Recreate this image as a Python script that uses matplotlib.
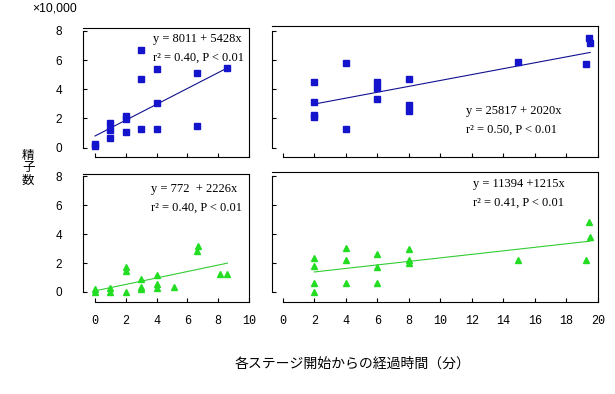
import numpy as np
import matplotlib
matplotlib.use('Agg')
import matplotlib.pyplot as plt

# ── Data (sperm count, x10,000) ──────────────────────────────────────────────
tl_x = [0, 0, 1, 1, 1, 2, 2, 2, 3, 3, 3, 4, 4, 4, 6.65, 6.6, 8.6]
tl_y = [0.12, 0.22, 1.67, 1.19, 0.66, 2.19, 1.96, 1.05, 6.69, 4.68, 1.28,
        5.37, 3.04, 1.28, 5.12, 1.49, 5.48]
tl_fit = (0.8011, 0.5428)
tl_rng = (0, 8.6)

tr_x = [2, 2, 2, 2, 4, 4, 6, 6, 6, 8, 8, 8, 14.9, 19.4, 19.5, 19.25]
tr_y = [4.52, 3.13, 2.24, 2.08, 5.78, 1.28, 4.52, 4.11, 3.34, 4.73, 2.92,
        2.49, 5.89, 7.49, 7.15, 5.73]
tr_fit = (2.5817, 0.2020)
tr_rng = (2, 19.5)

bl_x = [0, 0, 1, 1, 2, 2, 2, 3, 3, 3, 4, 4, 4, 5.15, 6.7, 6.65, 8.1, 8.6]
bl_y = [0.19, 0.03, 0.30, 0.0, 1.70, 1.47, 0.0, 0.87, 0.37, 0.19, 1.17,
        0.53, 0.30, 0.37, 3.20, 2.83, 1.22, 1.22]
bl_fit = (0.0772, 0.2226)
bl_rng = (0, 8.6)

br_x = [2, 2, 2, 2, 4, 4, 4, 6, 6, 6, 8, 8, 8, 14.9, 19.45, 19.5, 19.25]
br_y = [2.37, 1.79, 0.64, 0.0, 3.01, 2.18, 0.60, 2.60, 1.70, 0.60, 2.94,
        2.20, 2.02, 2.20, 4.83, 3.81, 2.20]
br_fit = (1.1394, 0.1215)
br_rng = (2, 19.5)

eq_text = ['y = 8011 + 5428x\nr² = 0.40, P < 0.01',
           'y = 25817 + 2020x\nr² = 0.50, P < 0.01',
           'y = 772  + 2226x\nr² = 0.40, P < 0.01',
           'y = 11394 +1215x\nr² = 0.41, P < 0.01']

BLUE_PT = '#1414cc'
BLUE_LN = '#101090'
GREEN_PT = '#22dd22'
GREEN_LN = '#33cc33'

plt.rcParams['font.family'] = ['Liberation Sans', 'Noto Sans CJK JP']

fig = plt.figure(figsize=(6.15, 3.94), dpi=100)

panels = [
    # rect, x, y, fit, range, xlim, ylim, marker, colours, text pos, labels
    ([0.135, 0.6015, 0.2699, 0.3274], tl_x, tl_y, tl_fit, tl_rng,
     (-0.78, 10.0), (-0.64, 8.2), 's', BLUE_PT, BLUE_LN, (0.42, 0.96), False, True),
    ([0.4423, 0.6015, 0.5301, 0.3325], tr_x, tr_y, tr_fit, tr_rng,
     (-0.68, 20.0), (-0.64, 8.33), 's', BLUE_PT, BLUE_LN, (0.595, 0.40), False, False),
    ([0.135, 0.2335, 0.2699, 0.3249], bl_x, bl_y, bl_fit, bl_rng,
     (-0.78, 10.0), (-0.69, 8.14), '^', GREEN_PT, GREEN_LN, (0.41, 0.93), True, True),
    ([0.4423, 0.2335, 0.5301, 0.33], br_x, br_y, br_fit, br_rng,
     (-0.68, 20.0), (-0.69, 8.28), '^', GREEN_PT, GREEN_LN, (0.615, 0.95), True, False),
]

for (rect, xs, ys, fit, rng, xl, yl, mk, c_pt, c_ln, tpos, show_x, show_y), txt in zip(panels, eq_text):
    ax = fig.add_axes(rect)
    ax.set_xlim(*xl)
    ax.set_ylim(*yl)
    ms = 4.6 if mk == 's' else 5.0
    ax.plot(xs, ys, ls='none', marker=mk, ms=ms, color=c_pt, mec=c_pt, zorder=3)
    lx = np.array(rng)
    ax.plot(lx, fit[0] + fit[1] * lx, color=c_ln, lw=0.8, zorder=2)

    xmax = xl[1]
    ax.set_xticks(np.arange(0, xmax + 0.1, 2))
    ax.set_yticks([0, 2, 4, 6, 8])
    ax.spines['left'].set_bounds(0, 8)
    ax.spines['bottom'].set_bounds(0, xmax)
    for s in ax.spines.values():
        s.set_linewidth(0.8)
        s.set_color('black')
    ax.tick_params(direction='in', length=3, width=0.8, colors='black')
    ax.tick_params(axis='y', pad=15, labelsize=8.5)
    ax.tick_params(axis='x', pad=9, labelsize=8.5)
    if not show_x:
        ax.set_xticklabels([])
    else:
        ax.set_xticklabels([str(int(v)) for v in ax.get_xticks()],
                           family='Liberation Mono')
    if not show_y:
        ax.set_yticklabels([])
    ax.text(tpos[0], tpos[1], txt, transform=ax.transAxes, ha='left', va='top',
            family='Liberation Serif', fontsize=9, linespacing=1.75)

fig.text(0.053, 0.978, '×10,000', ha='left', va='center', fontsize=8.8,
         family=['Liberation Sans', 'Noto Sans CJK JP'])
fig.text(0.046, 0.574, '精\n子\n数', ha='center', va='center', fontsize=9,
         family='Noto Sans CJK JP', linespacing=0.95)
fig.text(0.573, 0.078, '各ステージ開始からの経過時間（分）', ha='center', va='center',
         fontsize=10, family='Noto Sans CJK JP')

fig.savefig('out.png', dpi=100)
